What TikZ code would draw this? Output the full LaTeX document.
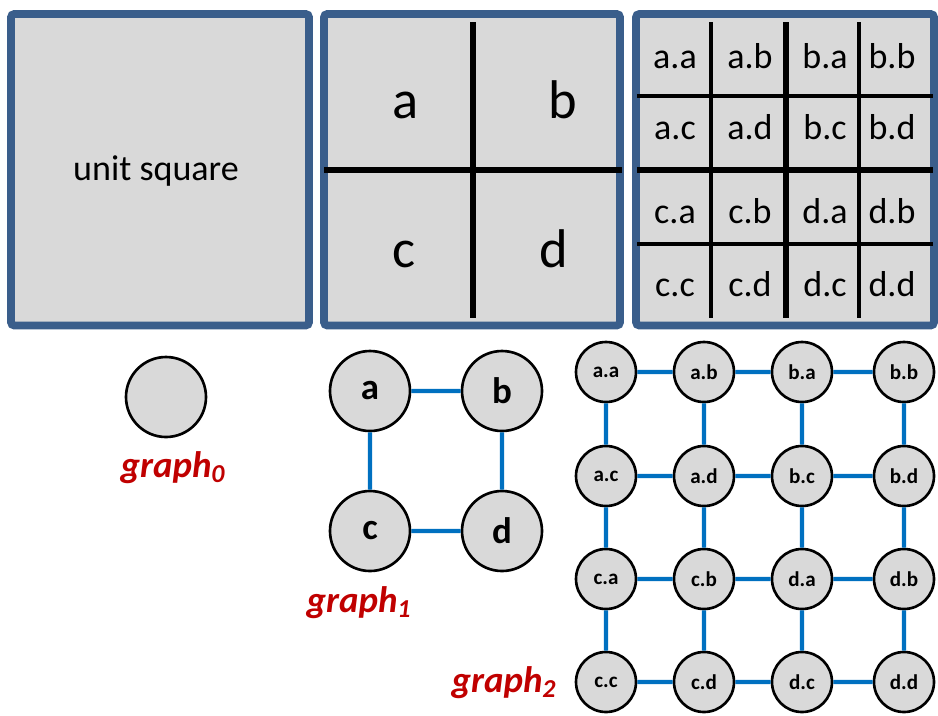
\documentclass[tikz,border=0pt]{standalone}
\usepackage{fontspec}
\setmainfont{Carlito}
\definecolor{boxblue}{RGB}{58,94,139}
\definecolor{boxgray}{RGB}{217,217,217}
\definecolor{edgeblue}{RGB}{0,112,192}
\definecolor{labred}{RGB}{192,0,0}

\begin{document}
\begin{tikzpicture}[scale=0.2,
		panel/.style={draw=boxblue, fill=boxgray, line width=4.5pt, rounded corners=2pt},
		cut/.style={black, line width=3.4pt},
		thincut/.style={black, line width=1.9pt},
		cell/.style={inner sep=0pt, anchor=base, font=\fontsize{20.5}{20.5}\selectfont},
		bigcell/.style={inner sep=0pt, anchor=base, font=\fontsize{31}{31}\selectfont},
		bignode/.style={circle, draw=black, fill=boxgray, line width=1.5pt, minimum size=1.6cm, inner sep=0pt, font=\bfseries\fontsize{21}{21}\selectfont},
		smallnode/.style={circle, draw=black, fill=boxgray, line width=1.5pt, minimum size=1.2cm, inner sep=0pt, font=\bfseries\fontsize{12}{12}\selectfont},
		edge/.style={edgeblue, line width=2.3pt},
		graphlabel/.style={inner sep=0pt, anchor=base, text=labred, font=\bfseries\itshape\fontsize{21}{21}\selectfont}]
		\useasboundingbox (0,0) rectangle (93.8,-71.5);
		% the three squares
		\draw [panel] (1.1,-1.4) rectangle (30.9,-32.55);
		\draw [panel] (32.4,-1.4) rectangle (62.0,-32.55);
		\draw [panel] (63.6,-1.4) rectangle (93.4,-32.55);
		\node [cell] (sq) at (15.6,-18.0) {unit square};
		% level 1
		\draw [cut] (47.3,-2.2) -- (47.3,-31.8);
		\draw [cut] (32.4,-17.0) -- (62.2,-17.0);
		\node [bigcell] (pa) at (40.6,-11.8) {a};
		\node [bigcell] (pb) at (56.3,-11.8) {b};
		\node [bigcell] (pc) at (40.4,-26.7) {c};
		\node [bigcell] (pd) at (55.4,-26.7) {d};
		% level 2
		\draw [thincut] (71.1,-2.2) -- (71.1,-31.8);
		\draw [cut] (78.6,-2.2) -- (78.6,-31.8);
		\draw [thincut] (85.9,-2.2) -- (85.9,-31.8);
		\draw [thincut] (63.7,-9.6) -- (93.3,-9.6);
		\draw [cut] (63.7,-17.0) -- (93.3,-17.0);
		\draw [thincut] (63.7,-24.4) -- (93.3,-24.4);
		\node [cell] (qaa) at (67.5,-6.8) {a.a};
		\node [cell] (qab) at (75.0,-6.8) {a.b};
		\node [cell] (qba) at (82.5,-6.8) {b.a};
		\node [cell] (qbb) at (89.2,-6.8) {b.b};
		\node [cell] (qac) at (67.5,-13.9) {a.c};
		\node [cell] (qad) at (75.0,-13.9) {a.d};
		\node [cell] (qbc) at (82.5,-13.9) {b.c};
		\node [cell] (qbd) at (89.2,-13.9) {b.d};
		\node [cell] (qca) at (67.5,-22.3) {c.a};
		\node [cell] (qcb) at (75.0,-22.3) {c.b};
		\node [cell] (qda) at (82.5,-22.3) {d.a};
		\node [cell] (qdb) at (89.2,-22.3) {d.b};
		\node [cell] (qcc) at (67.5,-29.6) {c.c};
		\node [cell] (qcd) at (75.0,-29.6) {c.d};
		\node [cell] (qdc) at (82.5,-29.6) {d.c};
		\node [cell] (qdd) at (89.2,-29.6) {d.d};
		% graph 0
		\node [bignode] (g) at (16.6,-39.7) {};
		\node [graphlabel] (l0) at (17.3,-47.7) {graph\textsubscript{0}};
		% graph 1
		\node [bignode] (a) at (37.0,-39.1) {a};
		\node [bignode] (b) at (50.2,-39.1) {b};
		\node [bignode] (c) at (37.0,-53.1) {c};
		\node [bignode] (d) at (50.2,-53.1) {d};
		\draw [edge] (a) -- (b);
		\draw [edge] (c) -- (d);
		\draw [edge] (a) -- (c);
		\draw [edge] (b) -- (d);
		\node [graphlabel] (l1) at (35.9,-61.2) {graph\textsubscript{1}};
		% graph 2
		\node [smallnode] (aa) at (60.6,-37.2) {a.a};
		\node [smallnode] (ab) at (70.4,-37.2) {a.b};
		\node [smallnode] (ba) at (80.2,-37.2) {b.a};
		\node [smallnode] (bb) at (90.4,-37.2) {b.b};
		\node [smallnode] (ac) at (60.6,-47.6) {a.c};
		\node [smallnode] (ad) at (70.4,-47.6) {a.d};
		\node [smallnode] (bc) at (80.2,-47.6) {b.c};
		\node [smallnode] (bd) at (90.4,-47.6) {b.d};
		\node [smallnode] (ca) at (60.6,-57.9) {c.a};
		\node [smallnode] (cb) at (70.4,-57.9) {c.b};
		\node [smallnode] (da) at (80.2,-57.9) {d.a};
		\node [smallnode] (db) at (90.4,-57.9) {d.b};
		\node [smallnode] (cc) at (60.6,-68.2) {c.c};
		\node [smallnode] (cd) at (70.4,-68.2) {c.d};
		\node [smallnode] (dc) at (80.2,-68.2) {d.c};
		\node [smallnode] (dd) at (90.4,-68.2) {d.d};
		\draw [edge] (aa) -- (ab);
		\draw [edge] (ab) -- (ba);
		\draw [edge] (ba) -- (bb);
		\draw [edge] (ac) -- (ad);
		\draw [edge] (ad) -- (bc);
		\draw [edge] (bc) -- (bd);
		\draw [edge] (ca) -- (cb);
		\draw [edge] (cb) -- (da);
		\draw [edge] (da) -- (db);
		\draw [edge] (cc) -- (cd);
		\draw [edge] (cd) -- (dc);
		\draw [edge] (dc) -- (dd);
		\draw [edge] (aa) -- (ac);
		\draw [edge] (ac) -- (ca);
		\draw [edge] (ca) -- (cc);
		\draw [edge] (ab) -- (ad);
		\draw [edge] (ad) -- (cb);
		\draw [edge] (cb) -- (cd);
		\draw [edge] (ba) -- (bc);
		\draw [edge] (bc) -- (da);
		\draw [edge] (da) -- (dc);
		\draw [edge] (bb) -- (bd);
		\draw [edge] (bd) -- (db);
		\draw [edge] (db) -- (dd);
		\node [graphlabel] (l2) at (50.4,-69.2) {graph\textsubscript{2}};
\end{tikzpicture}
\end{document}
